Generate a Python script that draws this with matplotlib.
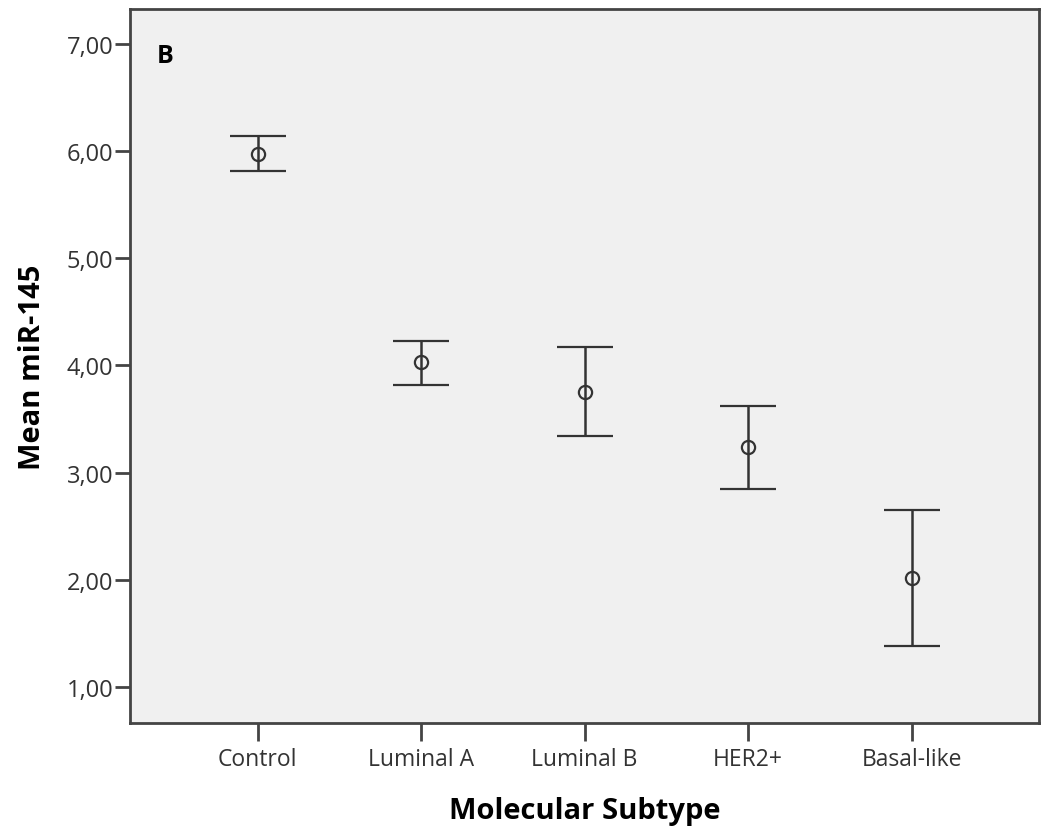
import numpy as np
import matplotlib.pyplot as plt
from matplotlib.ticker import FuncFormatter

# 各组的均值与误差线上下限
groups = ["Control", "Luminal A", "Luminal B", "HER2+", "Basal-like"]
means = [5.97, 4.03, 3.75, 3.24, 2.02]
upper = [6.14, 4.23, 4.17, 3.62, 2.65]
lower = [5.81, 3.82, 3.34, 2.85, 1.38]
yticks = [1, 2, 3, 4, 5, 6, 7]

plt.rcParams['font.family'] = ['Open Sans', 'DejaVu Sans']

fig = plt.figure(figsize=(10.45, 8.28), dpi=100)
ax = fig.add_axes([0.1244, 0.1256, 0.87, 0.8624])
ax.set_facecolor("#f0f0f0")

x = np.arange(len(groups))
means = np.array(means)
err = [means - np.array(lower), np.array(upper) - means]
ax.errorbar(x, means, yerr=err, fmt='o', mfc='none', mec='#333333', mew=1.6,
            ms=9.5, ecolor='#333333', elinewidth=1.8, capsize=20, capthick=1.8)

ax.set_xlim(-0.78, 4.78)
ax.set_ylim(0.664, 7.326)
ax.set_xticks(x)
ax.set_xticklabels(groups, fontsize=16.5, color='#333333')
ax.set_yticks(yticks)
ax.yaxis.set_major_formatter(FuncFormatter(lambda v, p: ("%.2f" % v).replace('.', ',')))
ax.tick_params(axis='y', length=11, width=2, color='#444444', labelsize=17, labelcolor='#333333', pad=1)
ax.tick_params(axis='x', length=13, width=2, color='#444444', pad=4)
for s in ax.spines.values():
    s.set_color('#444444')
    s.set_linewidth(2)

ax.set_xlabel("Molecular Subtype", fontsize=21, fontweight='bold', labelpad=18)
ax.set_ylabel("Mean miR-145", fontsize=21, fontweight='bold', labelpad=14)
ax.text(0.029, 0.925, "B", transform=ax.transAxes, fontsize=18, fontweight='bold')

fig.savefig("out.png", dpi=100)
